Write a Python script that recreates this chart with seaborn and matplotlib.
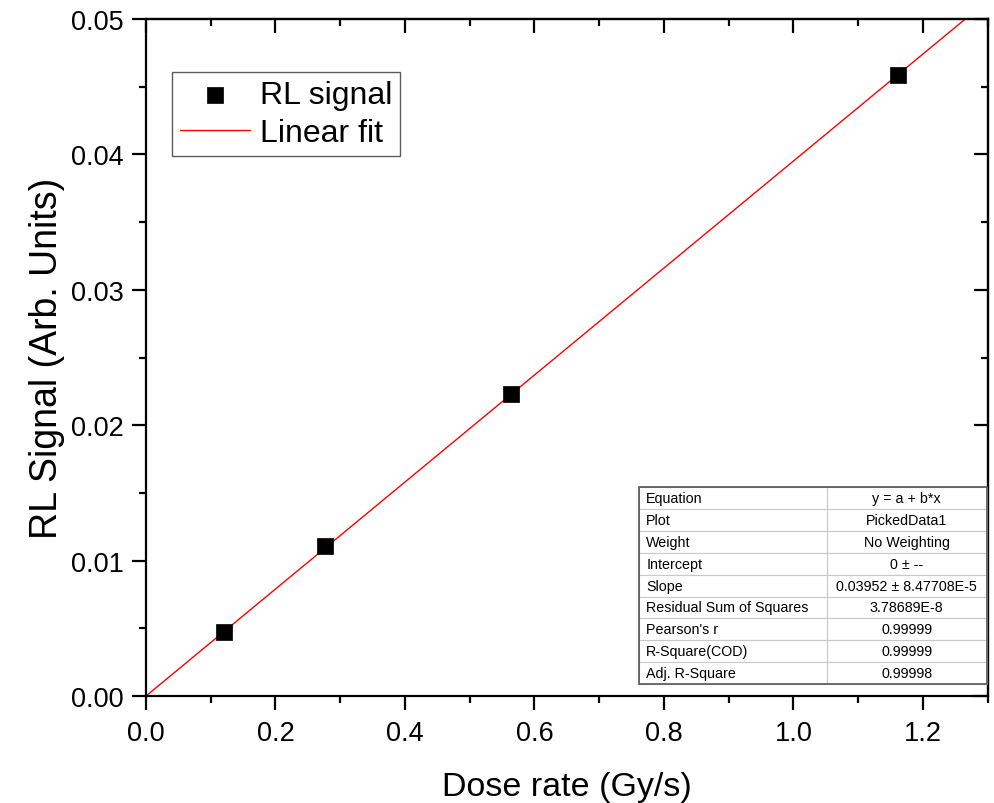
import numpy as np
import pandas as pd
import matplotlib
matplotlib.use("Agg")
import matplotlib.pyplot as plt
from matplotlib.ticker import MultipleLocator, FormatStrFormatter
import seaborn as sns

# ---------------- data ----------------
dose_rate = [0.120, 0.276, 0.563, 1.162]          # Gy/s
rl_signal = [0.00473, 0.01108, 0.02230, 0.04590]  # arb. units

slope = 0.03952
intercept = 0.0
fit_x = [0.0, 1.3]

table_labels = ["Equation", "Plot", "Weight", "Intercept", "Slope",
                "Residual Sum of Squares", "Pearson's r", "R-Square(COD)",
                "Adj. R-Square"]
table_values = ["y = a + b*x", "PickedData1", "No Weighting", "0 \u00b1 --",
                "0.03952 \u00b1 8.47708E-5", "3.78689E-8", "0.99999",
                "0.99999", "0.99998"]

sns.set_theme(style="ticks")
plt.rcParams["font.family"] = ["Liberation Sans", "DejaVu Sans"]
plt.rcParams["text.color"] = "black"
plt.rcParams["axes.labelcolor"] = "black"
plt.rcParams["xtick.color"] = "black"
plt.rcParams["ytick.color"] = "black"

fig = plt.figure(figsize=(9.95, 8.04), dpi=100)
ax = fig.add_axes([0.1467, 0.133, 0.846, 0.842])

df = pd.DataFrame({"x": dose_rate, "y": rl_signal})
fit_df = pd.DataFrame({"x": fit_x, "y": [intercept + slope * v for v in fit_x]})

sns.scatterplot(data=df, x="x", y="y", marker="s", s=130, color="black",
                edgecolor="black", linewidth=0.5, ax=ax, label="RL signal", zorder=3)
sns.lineplot(data=fit_df, x="x", y="y", color="red", linewidth=1.0, ax=ax,
             label="Linear fit", zorder=2)

ax.set_xlim(0, 1.3)
ax.set_ylim(0, 0.05)
ax.xaxis.set_major_locator(MultipleLocator(0.2))
ax.xaxis.set_minor_locator(MultipleLocator(0.1))
ax.yaxis.set_major_locator(MultipleLocator(0.01))
ax.yaxis.set_minor_locator(MultipleLocator(0.005))
ax.xaxis.set_major_formatter(FormatStrFormatter("%.1f"))
ax.yaxis.set_major_formatter(FormatStrFormatter("%.2f"))

for s in ax.spines.values():
    s.set_linewidth(1.6)
    s.set_color("black")

ax.tick_params(which="major", direction="out", length=10, width=1.6,
               labelsize=19.5, colors="black")
ax.tick_params(which="minor", direction="out", length=5, width=1.6)
ax.tick_params(axis="x", which="major", pad=7)
ax.tick_params(axis="y", which="major", pad=6)

# inward ticks on top and right
top = ax.secondary_xaxis("top")
top.xaxis.set_major_locator(MultipleLocator(0.2))
top.xaxis.set_minor_locator(MultipleLocator(0.1))
top.tick_params(which="major", direction="in", length=10, width=1.6, labeltop=False)
top.tick_params(which="minor", direction="in", length=5, width=1.6)
top.spines["top"].set_linewidth(1.6)
right = ax.secondary_yaxis("right")
right.yaxis.set_major_locator(MultipleLocator(0.01))
right.yaxis.set_minor_locator(MultipleLocator(0.005))
right.tick_params(which="major", direction="in", length=10, width=1.6, labelright=False)
right.tick_params(which="minor", direction="in", length=5, width=1.6)
right.spines["right"].set_linewidth(1.6)

ax.set_xlabel("Dose rate (Gy/s)", fontsize=24.5, labelpad=18)
ax.set_ylabel("RL Signal (Arb. Units)", fontsize=27, labelpad=4)

leg = ax.legend(loc="upper left", bbox_to_anchor=(0.031, 0.922), borderaxespad=0,
                fontsize=23, frameon=True, fancybox=False, handlelength=2.2,
                handletextpad=0.3, borderpad=0.25, labelspacing=0.25)
leg.get_frame().set_edgecolor("#333333")
leg.get_frame().set_linewidth(1.0)

# fit results table
tbl = ax.table(cellText=[[a, b] for a, b in zip(table_labels, table_values)],
               colWidths=[0.54, 0.46], bbox=[0.5855, 0.0177, 0.4133, 0.291],
               zorder=5)
tbl.auto_set_font_size(False)
for (r, c), cell in tbl.get_celld().items():
    cell.set_edgecolor("#c8c8c8")
    cell.set_linewidth(0.8)
    cell.set_facecolor("white")
    cell.get_text().set_fontsize(10.3)
    if c == 0:
        cell.get_text().set_ha("left")
        cell.PAD = 0.04
    else:
        cell.get_text().set_ha("center")
ax.add_patch(plt.Rectangle((0.5855, 0.0177), 0.4133, 0.291, transform=ax.transAxes,
                           fill=False, edgecolor="#555555", linewidth=1.2, zorder=6))

fig.savefig("out.png", dpi=100)
